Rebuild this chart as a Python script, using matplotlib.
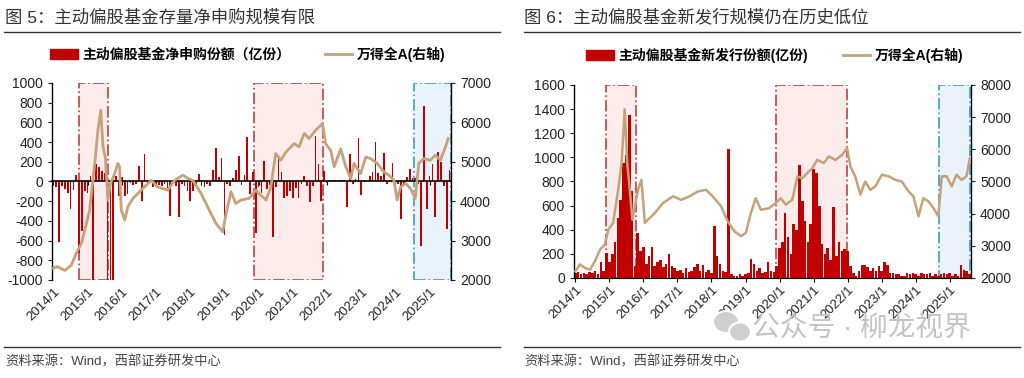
import numpy as np
import matplotlib.pyplot as plt
from matplotlib.patches import Rectangle, Patch, Ellipse
from matplotlib.lines import Line2D

plt.rcParams['font.family'] = ['Liberation Sans', 'Noto Sans CJK SC', 'DejaVu Sans']
plt.rcParams['axes.unicode_minus'] = False

# ---------------- data ----------------
# months counted from 2014/1 (0 = 2014/1)
year_labels = ['2014/1', '2015/1', '2016/1', '2017/1', '2018/1', '2019/1',
               '2020/1', '2021/1', '2022/1', '2023/1', '2024/1', '2025/1']

# fig 5: net subscription of active equity funds (亿份), monthly 2014/1 - 2025/8
net_sub = [
    -20, -55, -610, -50, -80, -120, -280, -90, 70, -730, -500, -100,        # 2014
    -120, 60, -1000, 180, 150, 110, 90, -1000, -1000, -1000, 60, -150,      # 2015
    50, -150, -130, -20, -40, -30, 160, -200, 280, -30, -20, -60,           # 2016
    -20, -40, -50, -30, -70, -350, -20, -50, -360, -30, -50, -100,          # 2017
    -200, -100, -30, 80, -50, -60, -30, -50, 120, 340, 50, 240,             # 2018
    -540, -30, -50, 40, 120, 260, -40, 70, 450, -130, 100, -520,            # 2019
    -60, -120, 210, -80, -40, -560, -60, 240, 100, -170, -150, -100,        # 2020
    -170, -70, -170, -30, 60, -50, -210, -50, 460, 180, -200, 110,          # 2021
    -20, 20, 10, 20, 20, 20, 10, -260, 280, -30, 30, 440,                   # 2022
    -140, 20, 5, 60, 100, 400, 90, 60, 290, -30, 20, 190,                   # 2023
    -60, -30, -380, -30, 50, 130, 40, 40, -30, -650, 770, -280,             # 2024
    60, 180, -360, 300, 200, -50, -480, 120,                                # 2025
]

# Wind All A index (right axis), fig 5
wind_a_m5 = [0, 1.3, 4, 6.3, 8, 9.8, 11.6, 12.7, 14.5, 15.6, 16.6, 17.4, 18.2, 19.1,
             20, 21.5, 22.6, 23.2, 23.8, 25, 26.1, 27.9, 30.8, 34.3, 36.6, 40.1,
             42.5, 45.4, 47.1, 48.9, 51.8, 54.7, 57, 59.4, 60.6, 62.3, 64, 65.8,
             68.7, 71, 72.8, 74.6, 76.3, 78, 79.8, 81.6, 84.5, 86.2, 88, 89.7, 92,
             94.4, 95.5, 97.3, 98.5, 100.8, 102.6, 104.3, 105.5, 107.8, 109.6,
             111.3, 113.6, 116, 117.7, 119.5, 120.6, 121.8, 123.6, 125.3, 127,
             128.2, 130, 132.3, 134, 135.8, 137.6, 138.5]
wind_a_v5 = [2300, 2340, 2240, 2380, 2680, 2930, 3440, 3770, 4960, 5800, 6310, 5380,
             5120, 4030, 4450, 4700, 4960, 4870, 3770, 3520, 3860, 4070, 4280, 4530,
             4360, 4280, 4530, 4660, 4580, 4530, 4200, 3770, 3440, 3220, 3690, 4240,
             3940, 4030, 4070, 4280, 4150, 4030, 4360, 5210, 5040, 5250, 5460, 5380,
             5720, 5590, 5800, 5970, 5460, 5290, 4870, 5330, 4870, 4580, 4960, 4700,
             5120, 5080, 4960, 4740, 4660, 4530, 4030, 4360, 4450, 4320, 4070, 4960,
             5080, 5040, 5170, 5040, 5380, 5590]

# fig 6: new issuance of active equity funds (亿份), monthly 2014/1 - 2025/8
new_issue = [
    40, 50, 30, 40, 30, 50, 40, 60, 30, 130, 60, 210,                       # 2014
    130, 200, 300, 500, 650, 950, 1020, 1350, 720, 100, 370, 220,           # 2015
    260, 120, 180, 260, 100, 130, 150, 90, 120, 200, 100, 80,               # 2016
    60, 70, 40, 80, 50, 60, 90, 120, 60, 110, 50, 70,                       # 2017
    40, 430, 180, 120, 60, 50, 1070, 30, 20, 20, 30, 20,                    # 2018
    30, 40, 160, 120, 60, 80, 40, 50, 130, 60, 50, 100,                     # 2019
    250, 300, 540, 340, 200, 450, 400, 940, 640, 470, 300, 450,             # 2020
    900, 870, 600, 280, 200, 250, 150, 590, 180, 300, 220, 240,             # 2021
    220, 100, 40, 20, 60, 110, 110, 90, 60, 80, 60, 100,                    # 2022
    60, 130, 110, 40, 40, 30, 30, 20, 20, 40, 30, 40,                       # 2023
    30, 20, 40, 30, 30, 40, 20, 30, 20, 30, 40, 30,                         # 2024
    40, 20, 30, 20, 110, 70, 60, 30,                                        # 2025
]

# Wind All A index (right axis), fig 6
wind_a_m6 = [0, 1.6, 3.4, 5.2, 6.9, 8.7, 10.4, 11.6, 13.3, 15.1, 16.3, 17.4, 18.3,
             19.2, 20.1, 21, 22.1, 23.3, 24.5, 25.6, 28, 30.9, 34.4, 37.3, 40.3,
             43.2, 46.1, 48.4, 51.4, 53.7, 56.1, 58.4, 60.1, 61.9, 63.6, 65.4, 68.3,
             70.7, 72.4, 74.2, 76.5, 78.3, 80, 81.8, 83.5, 85.3, 87.6, 89.4, 91.7,
             94.1, 95.8, 97, 98.7, 100.5, 102.2, 104, 105.8, 108.1, 110.5, 112.8,
             115.1, 117.5, 119.2, 121, 122.7, 124.5, 126.3, 128, 129.2, 130.9,
             132.7, 134.4, 136.2, 137.9, 139.1]
wind_a_v6 = [2210, 2420, 2310, 2260, 2520, 2880, 3040, 3500, 3710, 4740, 5570, 7245,
             5570, 4740, 3810, 4230, 4740, 5050, 3710, 3810, 4020, 4330, 4540, 4430,
             4540, 4690, 4740, 4540, 4230, 3760, 3450, 3300, 3400, 4020, 4480, 4120,
             4170, 4330, 4480, 4280, 4430, 5160, 5100, 5260, 5410, 5670, 5570, 5780,
             5670, 5830, 6040, 5470, 5160, 4590, 5000, 4740, 4850, 5210, 5160, 5050,
             5000, 4690, 4540, 3920, 4480, 4380, 4170, 3920, 5160, 5160, 4850, 5210,
             5050, 5160, 5720]

# highlighted periods (start month, end month, colour key)
boxes5 = [(9.1, 19.3, 'red'), (70.4, 94.5, 'red'), (126.4, 139.4, 'blue')]
boxes6 = [(10.9, 21.4, 'red'), (70.9, 95.8, 'red'), (128.1, 139.2, 'blue')]

# ---------------- style ----------------
BAR = '#C00000'
LINE = '#C4A27A'
BOX = {'red': ('#FCECEC', '#C0504D'), 'blue': ('#EAF3FB', '#4BA3C7')}
TXT = '#222222'


def draw_boxes(ax, boxes, y0, y1):
    for s, e, key in boxes:
        fc, ec = BOX[key]
        ax.add_patch(Rectangle((s, y0), e - s, y1 - y0, facecolor=fc, edgecolor=ec,
                               linestyle='-.', linewidth=1.3, zorder=0))


def style_axes(ax, ax2):
    for a in (ax, ax2):
        a.spines['top'].set_visible(False)
        a.spines['left'].set_linewidth(1.0)
        a.spines['right'].set_linewidth(1.0)
    ax.spines['right'].set_visible(False)
    ax2.spines['left'].set_visible(False)
    ax2.spines['bottom'].set_visible(False)
    ax.tick_params(axis='y', direction='out', length=3, labelsize=10, colors=TXT)
    ax2.tick_params(axis='y', direction='out', length=3, labelsize=10, colors=TXT)


def year_axis(ax, months):
    ticks = np.arange(len(year_labels)) * 12
    sec = ax.secondary_xaxis('bottom')
    sec.set_xticks(ticks)
    sec.set_xticklabels(year_labels, rotation=45, ha='right', rotation_mode='anchor',
                        fontsize=9.5, color=TXT)
    sec.tick_params(axis='x', length=0, pad=4)
    sec.spines['bottom'].set_visible(False)
    ax.set_xticks(ticks)
    ax.tick_params(axis='x', direction='out', length=3, labelbottom=False)
    ax.set_xlim(-0.5, months - 0.5)


fig = plt.figure(figsize=(10.24, 3.78), dpi=100)

# ---------- figure 5 ----------
ax = fig.add_axes([0.0508, 0.2593, 0.3896, 0.5212])
ax2 = ax.twinx()
m5 = np.arange(len(net_sub))
draw_boxes(ax, boxes5, -1000, 1000)
ax.bar(m5, net_sub, width=0.6, color=BAR, zorder=2)
ax.set_ylim(-1000, 1000)
ax.set_yticks(np.arange(-1000, 1001, 200))
ax.spines['bottom'].set_position(('data', 0))
ax.spines['bottom'].set_linewidth(1.2)
ax2.plot(wind_a_m5, wind_a_v5, color=LINE, lw=2.0, zorder=3)
ax2.set_ylim(2000, 7000)
ax2.set_yticks(np.arange(2000, 7001, 1000))
style_axes(ax, ax2)
year_axis(ax, 140)
ax2.legend(handles=[Patch(color=BAR, label='主动偏股基金净申购份额（亿份）'),
                    Line2D([], [], color=LINE, lw=2, label='万得全A(右轴)')],
           loc='center', bbox_to_anchor=(0.49, 1.147), ncol=2, frameon=False,
           prop={'size': 10, 'weight': 'bold'}, handlelength=2.0, columnspacing=2.5,
           handletextpad=0.3)

# ---------- figure 6 ----------
bx = fig.add_axes([0.5605, 0.2646, 0.3877, 0.5106])
bx2 = bx.twinx()
m6 = np.arange(len(new_issue))
draw_boxes(bx, boxes6, 0, 1600)
bx.bar(m6, new_issue, width=0.9, color=BAR, zorder=2)
bx.set_ylim(0, 1600)
bx.set_yticks(np.arange(0, 1601, 200))
bx2.plot(wind_a_m6, wind_a_v6, color=LINE, lw=1.8, zorder=3)
bx2.set_ylim(2000, 8000)
bx2.set_yticks(np.arange(2000, 8001, 1000))
style_axes(bx, bx2)
year_axis(bx, 140)
bx2.legend(handles=[Patch(color=BAR, label='主动偏股基金新发行份额(亿份)'),
                    Line2D([], [], color=LINE, lw=2, label='万得全A(右轴)')],
           loc='center', bbox_to_anchor=(0.506, 1.155), ncol=2, frameon=False,
           prop={'size': 10, 'weight': 'bold'}, handlelength=2.0, columnspacing=2.5,
           handletextpad=0.3)

# ---------- titles, rules, source ----------
fig.text(5 / 1024, 1 - 17 / 378, '图 5：主动偏股基金存量净申购规模有限', fontsize=12.5,
         color='#333333', va='center', ha='left')
fig.text(524 / 1024, 1 - 17 / 378, '图 6：主动偏股基金新发行规模仍在历史低位', fontsize=12.5,
         color='#333333', va='center', ha='left')
for x0, x1 in [(4, 500), (524, 1020)]:
    for yy in (32, 347):
        fig.add_artist(Line2D([x0 / 1024, x1 / 1024], [1 - yy / 378, 1 - yy / 378],
                              color='#333333', lw=1.0))
fig.text(5 / 1024, 1 - 362 / 378, '资料来源：Wind，西部证券研发中心', fontsize=9.5,
         color='#444444', va='center', ha='left')
fig.text(524 / 1024, 1 - 362 / 378, '资料来源：Wind，西部证券研发中心', fontsize=9.5,
         color='#444444', va='center', ha='left')

# watermark (wechat-style bubbles + text)
fig.add_artist(Ellipse((726 / 1024, 1 - 322 / 378), 26 / 1024, 22 / 378,
                       facecolor='#cfcfcf', edgecolor='white', lw=1.5,
                       transform=fig.transFigure, zorder=10))
fig.add_artist(Ellipse((740 / 1024, 1 - 332 / 378), 22 / 1024, 19 / 378,
                       facecolor='#cfcfcf', edgecolor='white', lw=1.5,
                       transform=fig.transFigure, zorder=11))
fig.text(752 / 1024, 1 - 329 / 378, '公众号 · 柳龙视界', fontsize=20, color='#c4c4c4',
         va='center', ha='left', zorder=10)

fig.savefig('out.png', dpi=100)
